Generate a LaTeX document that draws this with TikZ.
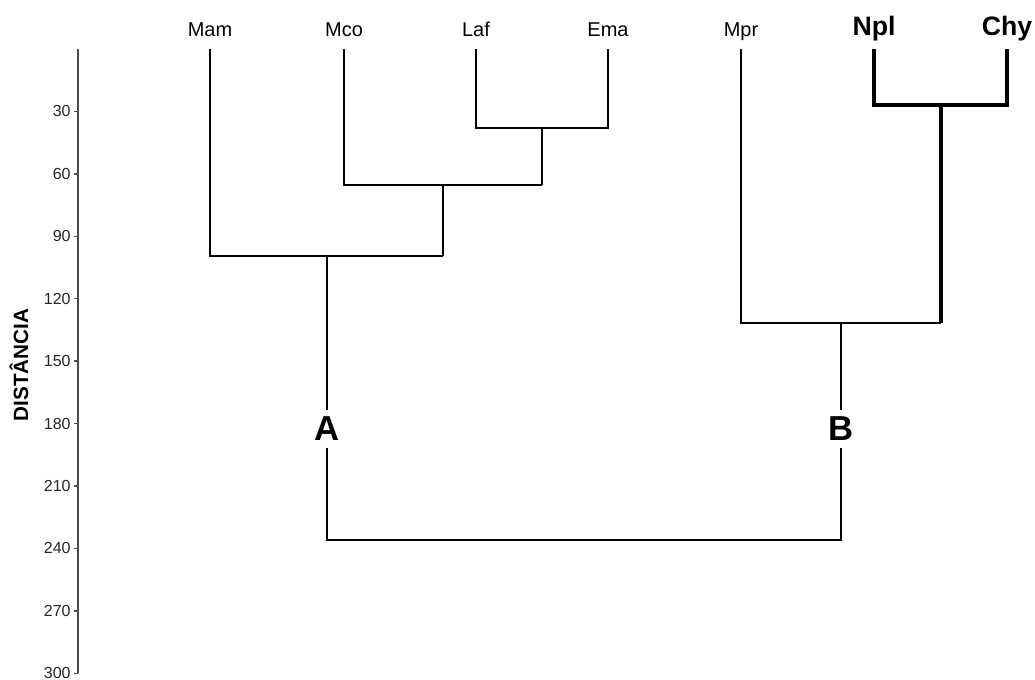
\documentclass[tikz,border=0pt]{standalone}
\usepackage{fontspec}
\setmainfont{Liberation Sans}
\begin{document}
\begin{tikzpicture}[x=0.75pt,y=-0.75pt,
  br/.style={line width=1.1pt,draw=black},
  heavy/.style={line width=3pt,draw=black},
  ax/.style={line width=1.4pt,draw=black!70},
  leaf/.style={font=\fontsize{15}{18}\selectfont,anchor=base,inner sep=0pt},
  bleaf/.style={font=\fontsize{20}{24}\selectfont\bfseries,anchor=base,inner sep=0pt},
  grp/.style={font=\fontsize{26}{30}\selectfont\bfseries,fill=white,inner xsep=2pt,inner ysep=5pt},
  tick/.style={font=\fontsize{12}{14}\selectfont,anchor=east,inner sep=0pt,text=black!85}]
\useasboundingbox (0,0) rectangle (1035,680);
% axis
\coordinate (axtop) at (78,49);
\coordinate (axbot) at (78,673);
\draw[ax] (axtop) -- (axbot);
\foreach \v in {30,60,...,300}{
  \coordinate (t\v) at (78,{49+\v*2.081});
  \draw[ax,line width=1.1pt] (t\v) -- ++(-4,0) node[tick,left=2pt] {\v};
}
\node[font=\fontsize{15.5}{18}\selectfont\bfseries,rotate=90] (dist) at (19,365) {DISTÂNCIA};
% leaf labels
\node[leaf] (Mam) at (210,37) {Mam};
\node[leaf] (Mco) at (344,37) {Mco};
\node[leaf] (Laf) at (476,37) {Laf};
\node[leaf] (Ema) at (608,37) {Ema};
\node[leaf] (Mpr) at (741,37) {Mpr};
\node[bleaf] (Npl) at (874,36) {Npl};
\node[bleaf] (Chy) at (1007,36) {Chy};
% leaf tops
\coordinate (lMam) at (210,49);
\coordinate (lMco) at (344,49);
\coordinate (lLaf) at (476,49);
\coordinate (lEma) at (608,49);
\coordinate (lMpr) at (741,49);
\coordinate (lNpl) at (874,49);
\coordinate (lChy) at (1007,49);
% joins
\coordinate (jLE) at (542,128);
\coordinate (jMLE) at (443,185);
\coordinate (jA) at (327,256);
\coordinate (jNC) at (941,105);
\coordinate (jB) at (841,323);
% tree
\draw[br] (lLaf) |- (jLE) -| (lEma);
\draw[br] (jLE) -- (jLE |- jMLE);
\draw[br] (lMco) |- (jMLE) -| (jLE |- jMLE);
\draw[br] (jMLE) -- (jMLE |- jA);
\draw[br] (lMam) |- (jA) -| (jMLE |- jA);
\draw[heavy] (lNpl) |- (jNC) -| (lChy);
\draw[heavy] (jNC) -- (jNC |- jB);
\draw[br] (lMpr) |- (jB) -| (jNC |- jB);
% groups
\node[grp] (A) at (327,429) {A};
\node[grp] (B) at (841,429) {B};
\coordinate (rA) at (327,540);
\coordinate (rB) at (841,540);
\draw[br] (jA) -- (A);
\draw[br] (jB) -- (B);
\draw[br] (A) -- (rA) -- (rB) -- (B);
\end{tikzpicture}
\end{document}
